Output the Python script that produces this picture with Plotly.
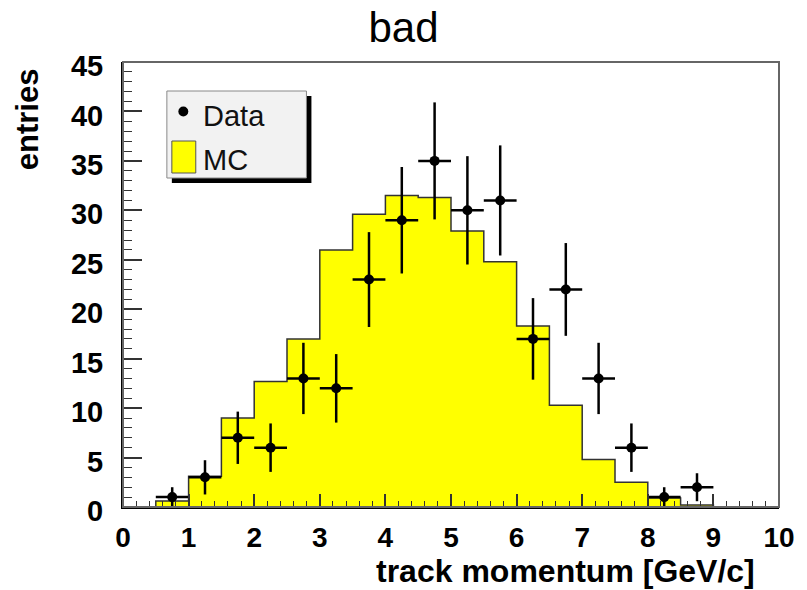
import numpy as np
import plotly.graph_objects as go

# Histogram binning: 20 bins of 0.5 GeV/c between 0 and 10
bin_lo = 0.0
bin_width = 0.5
n_bins = 20

# Simulated (MC) expectation per bin
mc_counts = [0.0, 0.6, 3.1, 9.0, 12.7, 17.0, 26.0, 29.6, 31.5, 31.3,
             27.9, 24.8, 18.3, 10.3, 4.8, 2.5, 0.9, 0.2, 0.0, 0.0]

# Measured data: bin centres and counts (only filled bins)
data_x = [0.75, 1.25, 1.75, 2.25, 2.75, 3.25, 3.75, 4.25, 4.75,
          5.25, 5.75, 6.25, 6.75, 7.25, 7.75, 8.25, 8.75]
data_counts = [1, 3, 7, 6, 13, 12, 23, 29, 35, 30, 31, 17, 22, 13, 6, 1, 2]

x_tick_vals = list(range(0, 11))
y_tick_vals = list(range(0, 50, 5))

edges = bin_lo + bin_width * np.arange(n_bins + 1)
data_err = np.sqrt(np.array(data_counts, dtype=float))

# Plot frame in page pixels
W, H = 807, 590
L, R, T, B = 123, 781, 62, 507


def px(x):
    return (x - L) / (R - L)


def py(y):
    return (B - y) / (B - T)


FONT = "Liberation Sans, Arial, Helvetica, sans-serif"

fig = go.Figure()

# MC histogram as a filled step outline
fig.add_trace(go.Scatter(
    x=list(edges),
    y=list(mc_counts) + [mc_counts[-1]],
    mode="lines",
    line=dict(shape="hv", color="#333333", width=1.5),
    fill="tozeroy",
    fillcolor="#ffff00",
    name="MC",
    showlegend=False,
    hoverinfo="skip",
))

# Data points with Poisson errors and bin-width horizontal bars
fig.add_trace(go.Scatter(
    x=data_x,
    y=data_counts,
    mode="markers",
    marker=dict(color="black", size=10, symbol="circle"),
    error_y=dict(type="data", array=list(data_err), color="black",
                 thickness=2.5, width=0),
    error_x=dict(type="constant", value=bin_width / 2, color="black",
                 thickness=2.5, width=0),
    name="Data",
    showlegend=False,
))

shapes = []
# grey frame around the plotting area
shapes.append(dict(type="rect", xref="paper", yref="paper",
                   x0=0, x1=1, y0=0, y1=1,
                   line=dict(color="#666666", width=2), layer="above"))
# legend: drop shadow, box, symbols
shapes.append(dict(type="rect", xref="paper", yref="paper",
                   x0=px(172), x1=px(312), y0=py(183), y1=py(96),
                   fillcolor="black", line=dict(width=0), layer="above"))
shapes.append(dict(type="rect", xref="paper", yref="paper",
                   x0=px(167), x1=px(307), y0=py(178), y1=py(91),
                   fillcolor="#f2f2f2", line=dict(color="#888888", width=1),
                   layer="above"))
shapes.append(dict(type="circle", xref="paper", yref="paper",
                   x0=px(178.5), x1=px(188.5), y0=py(116.5), y1=py(106.5),
                   fillcolor="black", line=dict(width=0), layer="above"))
shapes.append(dict(type="rect", xref="paper", yref="paper",
                   x0=px(172), x1=px(196), y0=py(173), y1=py(141),
                   fillcolor="#ffff00", line=dict(color="#555555", width=1),
                   layer="above"))

annotations = [
    dict(text="Data", xref="paper", yref="paper", x=px(201), y=py(116),
         xanchor="left", yanchor="middle", showarrow=False,
         font=dict(family=FONT, size=29, color="#111111")),
    dict(text="MC", xref="paper", yref="paper", x=px(201), y=py(160),
         xanchor="left", yanchor="middle", showarrow=False,
         font=dict(family=FONT, size=29, color="#111111")),
    dict(text="entries", xref="paper", yref="paper", x=px(27), y=py(66),
         xanchor="center", yanchor="top", textangle=-90, showarrow=False,
         font=dict(family=FONT, size=31, color="black", weight="bold")),
    dict(text="track momentum [GeV/c]", xref="paper", yref="paper",
         x=px(759), y=py(571), xanchor="right", yanchor="middle",
         showarrow=False,
         font=dict(family=FONT, size=32, color="black", weight="bold")),
]

fig.update_layout(
    width=W, height=H,
    margin=dict(l=L, r=W - R, t=T, b=H - B),
    paper_bgcolor="white",
    plot_bgcolor="white",
    showlegend=False,
    title=dict(text="bad", x=0.5, xref="container", xanchor="center",
               y=1 - 27 / H, yref="container", yanchor="middle",
               font=dict(family=FONT, size=42, color="black")),
    shapes=shapes,
    annotations=annotations,
)

fig.update_xaxes(
    range=[0, 10], tickvals=x_tick_vals,
    ticks="inside", ticklen=13, tickwidth=1.5, tickcolor="#333333",
    minor=dict(dtick=0.2, ticks="inside", ticklen=6, tickwidth=1.2,
               tickcolor="#333333"),
    showline=True, linecolor="black", linewidth=2,
    showgrid=False, zeroline=False,
    tickfont=dict(family=FONT, size=28, color="black", weight="bold"),
    ticklabelstandoff=4,
)
fig.update_yaxes(
    range=[0, 45], tickvals=y_tick_vals,
    ticks="inside", ticklen=19, tickwidth=1.5, tickcolor="#333333",
    minor=dict(dtick=1, ticks="inside", ticklen=9, tickwidth=1.2,
               tickcolor="#333333"),
    showline=True, linecolor="black", linewidth=2,
    showgrid=False, zeroline=False,
    tickfont=dict(family=FONT, size=29, color="black", weight="bold"),
    ticklabelstandoff=12, ticklabelshift=4,
)

fig.write_html("out.html")
